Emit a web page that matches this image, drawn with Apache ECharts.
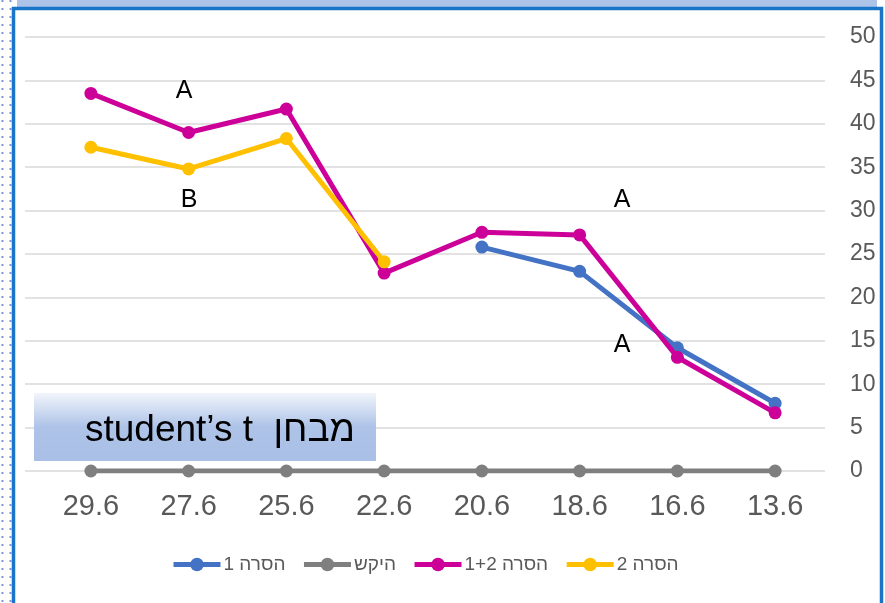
<!DOCTYPE html>
<html>
<head>
<meta charset="utf-8">
<script src="https://cdn.jsdelivr.net/npm/echarts@6/dist/echarts.min.js"></script>
<style>
html,body{margin:0;padding:0;background:#fff;}
#chart{width:885px;height:603px;}
</style>
</head>
<body>
<div id="chart"></div>
<script>
const categories = ['29.6','27.6','25.6','22.6','20.6','18.6','16.6','13.6'];
const seriesNames = ['\u202Bהסרה 1\u202C','\u202Bהיקש\u202C','\u202Bהסרה 1+2\u202C','\u202Bהסרה 2\u202C'];
const removal1 = [null, null, null, null, 25.8, 23.0, 14.2, 7.8];
const control = [0, 0, 0, 0, 0, 0, 0, 0];
const removal12 = [43.5, 39.0, 41.7, 22.8, 27.5, 27.2, 13.1, 6.7];
const removal2 = [37.3, 34.8, 38.3, 24.1, null, null, null, null];
const yTicks = { min: 0, max: 50, interval: 5 };
const colors = ['#4472C4', '#7F7F7F', '#CC0099', '#FFC000'];
const boxText = '\u202Bמבחן  student’s t\u202C';
const annotations = [
  { text: 'A', x: 184, y: 91 },
  { text: 'B', x: 189, y: 200 },
  { text: 'A', x: 622, y: 200 },
  { text: 'A', x: 622, y: 345 }
];

const chart = echarts.init(document.getElementById('chart'));

function lineSeries(name, data, color, z) {
  return {
    name: name,
    type: 'line',
    data: data,
    xAxisIndex: 0,
    yAxisIndex: 0,
    symbol: 'circle',
    symbolSize: 13,
    showSymbol: true,
    connectNulls: false,
    z: z,
    lineStyle: { color: color, width: 5 },
    itemStyle: { color: color },
    emphasis: { disabled: true },
    animation: false
  };
}

const option = {
  animation: false,
  textStyle: { fontFamily: 'Liberation Sans, Arial, sans-serif' },
  grid: [
    { left: 42, right: 61, top: 37, bottom: 132 },
    { left: 25, right: 60, top: 37, bottom: 132 }
  ],
  xAxis: [
    {
      type: 'category',
      gridIndex: 0,
      data: categories,
      boundaryGap: true,
      axisLine: { show: false },
      axisTick: { show: false },
      axisLabel: { color: '#595959', fontSize: 29, margin: 21, fontFamily: 'Liberation Sans, Arial, sans-serif' },
      splitLine: { show: false }
    },
    {
      type: 'category',
      gridIndex: 1,
      data: categories,
      show: false
    }
  ],
  yAxis: [
    {
      type: 'value',
      gridIndex: 0,
      position: 'right',
      min: yTicks.min, max: yTicks.max, interval: yTicks.interval,
      axisLine: { show: false },
      axisTick: { show: false },
      axisLabel: { color: '#595959', fontSize: 23, margin: 26, align: 'left', fontFamily: 'Liberation Sans, Arial, sans-serif' },
      splitLine: { show: false }
    },
    {
      type: 'value',
      gridIndex: 1,
      min: yTicks.min, max: yTicks.max, interval: yTicks.interval,
      axisLine: { show: false },
      axisTick: { show: false },
      axisLabel: { show: false },
      splitLine: { show: true, lineStyle: { color: '#D9D9D9', width: 1.5 } }
    }
  ],
  legend: {
    left: 166,
    top: 550,
    itemWidth: 47,
    itemHeight: 17,
    itemGap: 16,
    data: seriesNames,
    lineStyle: { width: 5 },
    textStyle: { color: '#595959', fontSize: 19, padding: [0, 0, 0, -2], fontFamily: 'Liberation Sans, Arial, sans-serif' }
  },
  series: [
    lineSeries(seriesNames[0], removal1, colors[0], 3),
    lineSeries(seriesNames[1], control, colors[1], 2),
    lineSeries(seriesNames[2], removal12, colors[2], 4),
    lineSeries(seriesNames[3], removal2, colors[3], 5)
  ],
  graphic: [
    { type: 'rect', shape: { x: 17, y: 0, width: 860, height: 7 }, style: { fill: '#ADC3E8' }, z: 100 },
    { type: 'line', shape: { x1: 2.5, y1: 0, x2: 2.5, y2: 603 }, style: { stroke: '#7A98D6', lineWidth: 2, lineDash: [2, 6] }, z: 100 },
    { type: 'line', shape: { x1: 10.5, y1: 0, x2: 10.5, y2: 603 }, style: { stroke: '#7A98D6', lineWidth: 2, lineDash: [2, 6] }, z: 100 },
    { type: 'rect', shape: { x: 13.5, y: 8.5, width: 868, height: 610 }, style: { fill: 'none', stroke: '#1A75C8', lineWidth: 3.5 }, z: 100 },
    {
      type: 'rect', shape: { x: 34, y: 393, width: 342, height: 68 },
      style: {
        fill: new echarts.graphic.LinearGradient(0, 0, 0, 1, [
          { offset: 0, color: '#F2F5FB' },
          { offset: 0.5, color: '#ADC3E8' },
          { offset: 1, color: '#A9BFE5' }
        ])
      },
      z: 100
    },
    {
      type: 'text', x: 220, y: 431, z: 101,
      style: { text: boxText, fill: '#000', font: '37px "Liberation Sans", Arial, sans-serif', align: 'center', verticalAlign: 'middle' }
    }
  ].concat(annotations.map(a => ({
    type: 'text', x: a.x, y: a.y, z: 101,
    style: { text: a.text, fill: '#000', font: '25px "Liberation Sans", Arial, sans-serif', align: 'center', verticalAlign: 'middle' }
  })))
};
chart.setOption(option);
</script>
</body>
</html>
